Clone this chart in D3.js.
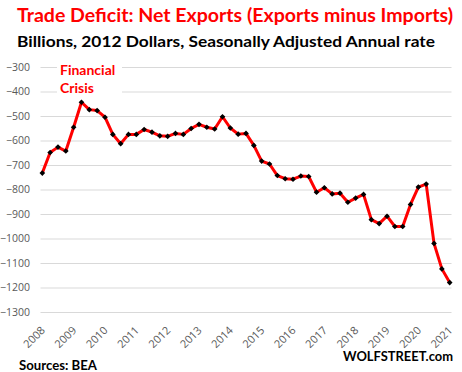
<!DOCTYPE html>
<html>
<head>
<meta charset="utf-8">
<script src="https://cdn.jsdelivr.net/npm/d3@7"></script>
<style>
  body { margin: 0; background: #fff; }
  svg { display: block; }
</style>
</head>
<body>
<div id="graphicContainer"></div>
<script>
// net exports, billions of 2012 dollars, SAAR, 2008Q1 .. 2021Q1
var years = ["2008","2009","2010","2011","2012","2013","2014","2015","2016","2017","2018","2019","2020","2021"]
var netExports = [-733,-649,-627,-643,-546,-444,-474,-478,-505,-575,
                  -613,-575,-575,-555,-566,-581,-583,-571,-575,-551,
                  -534,-546,-553,-503,-549,-574,-571,-620,-684,-696,
                  -743,-756,-758,-745,-747,-811,-793,-818,-815,-852,
                  -835,-820,-923,-939,-909,-951,-951,-861,-790,-778,
                  -1020,-1124,-1180]
var yTicks = [-300,-400,-500,-600,-700,-800,-900,-1000,-1100,-1200,-1300]

var quarters = []
years.forEach(y => ["Q1","Q2","Q3","Q4"].forEach(q => quarters.push(y + " " + q)))
quarters = quarters.slice(0, netExports.length)

var data = quarters.map((q, i) => ({q: q, value: netExports[i]}))

var width = 462, height = 372
var plot = {left: 40.5, right: 451.5, top: 67, bottom: 312}

var svg = d3.select("#graphicContainer").append("svg")
    .attr("width", width)
    .attr("height", height)
    .style("font-family", "Lato, 'Open Sans', sans-serif")

var x = d3.scalePoint()
    .domain(quarters)
    .range([plot.left, plot.right])
    .padding(0.23)

var y = d3.scaleLinear()
    .domain([-1300, -300])
    .range([plot.bottom, plot.top])

// titles
svg.append("text")
    .attr("x", 17).attr("y", 22)
    .attr("textLength", 436).attr("lengthAdjust", "spacingAndGlyphs")
    .style("font-size", "18.5px").style("font-weight", "bold")
    .attr("fill", "#ff0000")
    .text("Trade Deficit: Net Exports (Exports minus Imports)")

svg.append("text")
    .attr("x", 17).attr("y", 46.5)
    .attr("textLength", 418).attr("lengthAdjust", "spacingAndGlyphs")
    .style("font-size", "16px").style("font-weight", "bold")
    .attr("fill", "#000")
    .text("Billions, 2012 Dollars, Seasonally Adjusted Annual rate")

// y axis + gridlines
var yAxis = svg.append("g")
    .attr("transform", "translate(" + plot.left + ",0)")
    .call(d3.axisLeft(y).tickValues(yTicks).tickFormat(d3.format("d"))
        .tickSize(-(plot.right - plot.left)).tickPadding(10.5))

yAxis.select(".domain").remove()
yAxis.selectAll("line").attr("stroke", "#d9d9d9").attr("stroke-width", 1)
yAxis.selectAll("text")
    .attr("fill", "#595959")
    .style("font-size", "10.5px")
    .style("font-family", "'Open Sans', sans-serif")

// x axis, one label per year
var xAxis = svg.append("g")
    .attr("transform", "translate(0," + plot.bottom + ")")
    .call(d3.axisBottom(x)
        .tickValues(quarters.filter(q => q.endsWith("Q1")))
        .tickFormat(q => q.slice(0, 4))
        .tickSize(0))

xAxis.select(".domain").remove()
xAxis.selectAll("text")
    .attr("x", 0).attr("y", 0).attr("dy", 0)
    .attr("transform", "translate(3,19) rotate(-45)")
    .attr("text-anchor", "end")
    .attr("fill", "#595959")
    .style("font-size", "11px")
    .style("font-family", "'Open Sans', sans-serif")

// annotation
svg.append("rect")
    .attr("x", 57).attr("y", 58).attr("width", 65).attr("height", 42)
    .attr("fill", "#fff")

svg.append("text")
    .attr("x", 60).attr("y", 75)
    .style("font-size", "14px").style("font-weight", "bold")
    .attr("fill", "#ff0000")
    .text("Financial")

svg.append("text")
    .attr("x", 60).attr("y", 92.7)
    .style("font-size", "14px").style("font-weight", "bold")
    .attr("fill", "#ff0000")
    .text("Crisis")

// line
svg.append("path")
    .datum(data)
    .attr("fill", "none")
    .attr("stroke", "#ff0000")
    .attr("stroke-width", 3)
    .attr("stroke-linejoin", "round")
    .attr("d", d3.line()
        .x(d => x(d.q))
        .y(d => y(d.value)))

svg.selectAll(".marker")
    .data(data)
    .enter()
    .append("path")
    .attr("class", "marker")
    .attr("d", d3.symbol().type(d3.symbolSquare).size(16))
    .attr("transform", d => "translate(" + x(d.q) + "," + y(d.value) + ") rotate(45)")
    .attr("fill", "#000")

// footer
svg.append("text")
    .attr("x", 19).attr("y", 369.5)
    .attr("textLength", 78).attr("lengthAdjust", "spacingAndGlyphs")
    .style("font-size", "13px").style("font-weight", "bold")
    .attr("fill", "#000")
    .text("Sources: BEA")

svg.append("text")
    .attr("x", 343).attr("y", 361)
    .attr("textLength", 110).attr("lengthAdjust", "spacingAndGlyphs")
    .style("font-size", "13px").style("font-weight", "bold")
    .attr("fill", "#000")
    .text("WOLFSTREET.com")
</script>
</body>
</html>
